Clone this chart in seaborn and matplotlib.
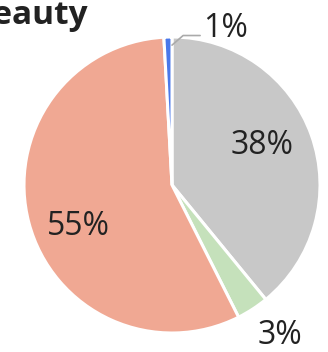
import matplotlib
matplotlib.use("Agg")
import matplotlib.pyplot as plt
import seaborn as sns
import numpy as np

categories = ["Grey", "Green", "Salmon", "Blue"]
values = [38, 3.4, 55, 0.85]
labels = ["38%", "3%", "55%", "1%"]
colors = ["#c8c8c8", "#c5e1bb", "#f0a893", "#4a78ea"]
title = "Beauty"

sns.set_theme(style="white")
plt.rcParams['font.family'] = ['Open Sans', 'DejaVu Sans']
palette = sns.color_palette(colors)

W, H = 328, 352
fig = plt.figure(figsize=(W / 100, H / 100), dpi=100)
cx, cy, r = 172, 185, 148
ax = fig.add_axes([(cx - r) / W, (H - cy - r) / H, 2 * r / W, 2 * r / H])
wedges, _ = ax.pie(values, colors=palette, startangle=90, counterclock=False,
                   wedgeprops=dict(edgecolor="white", linewidth=2.2))
ax.set_xlim(-1, 1)
ax.set_ylim(-1, 1)
ax.set_aspect("equal")
ax.axis("off")

fs = 23
txtc = "#222222"
# inside labels
ax.text(0.61, 0.27, labels[0], ha="center", va="center", fontsize=fs, color=txtc)
ax.text(-0.635, -0.28, labels[2], ha="center", va="center", fontsize=fs, color=txtc)
# outside labels
ax.text(0.73, -1.02, labels[1], ha="center", va="center", fontsize=fs, color=txtc, clip_on=False)
ax.text(0.21, 1.06, labels[3], ha="left", va="center", fontsize=fs, color=txtc, clip_on=False)
ax.plot([0.0, 0.075, 0.19], [0.945, 1.01, 1.01], color="#aaaaaa", lw=1.2, clip_on=False)

fig.text(88 / W, 1 - 16 / H, title, ha="right", va="center", fontsize=24,
         fontweight="bold", color="#222222")

fig.savefig("out.png", dpi=100)
